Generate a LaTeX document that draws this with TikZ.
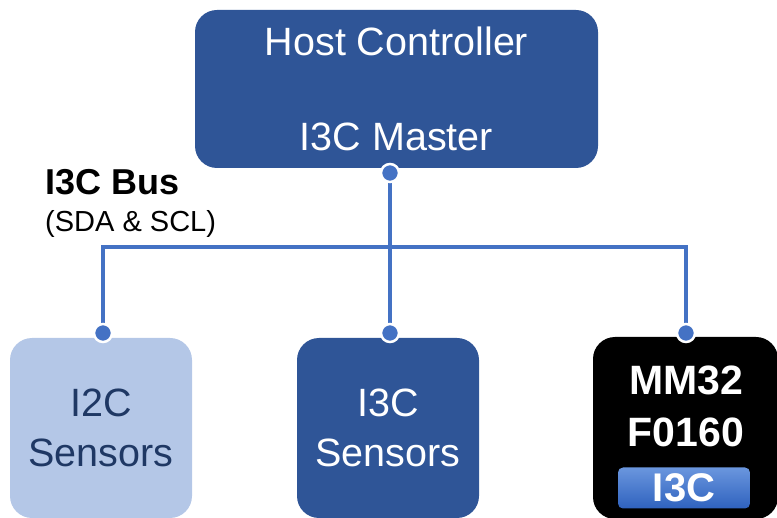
\documentclass[tikz,border=0pt]{standalone}
\usepackage{fontspec}
\setmainfont{Liberation Sans}
\usetikzlibrary{backgrounds}

\definecolor{hostblue}{HTML}{2F5597}
\definecolor{paleblue}{HTML}{B4C7E7}
\definecolor{busblue}{HTML}{4472C4}
\definecolor{navytext}{HTML}{1F3864}
\definecolor{taglight}{HTML}{6A96DE}
\definecolor{tagdark}{HTML}{2F62BE}

\tikzset{
  box/.style={rounded corners=22pt, inner sep=0pt, align=center},
  busline/.style={busblue, line width=4.5pt, line join=miter},
  busdot/.style={circle, inner sep=0pt, minimum size=18pt, fill=busblue, draw=white, line width=2.5pt}
}

\begin{document}
\begin{tikzpicture}[x=1pt,y=-1pt]

\useasboundingbox (0,0) rectangle (777,518);

\node[box, fill=hostblue, text=white, minimum width=403pt, minimum height=158pt, font=\fontsize{39.5}{95}\selectfont] (host) at (396.5,89) {Host Controller\\I3C Master};

\node[box, fill=paleblue, text=navytext, minimum width=182pt, minimum height=180pt, font=\fontsize{39.5}{50}\selectfont] (i2c) at (101,428) {I2C\\Sensors};

\node[box, fill=hostblue, text=white, minimum width=182pt, minimum height=180pt, font=\fontsize{39.5}{50}\selectfont] (i3c) at (388,428) {I3C\\Sensors};

\node[box, fill=black, minimum width=185pt, minimum height=182pt] (mm32) at (685.5,428) {};

\node[align=center, text=white, font=\bfseries\fontsize{41}{52}\selectfont] (mmname) at (686,406) {MM32\\F0160};

\node[inner sep=0pt, rounded corners=5pt, top color=taglight, bottom color=tagdark, minimum width=132pt, minimum height=41pt, text=white, font=\bfseries\fontsize{40}{40}\selectfont] (mmtag) at (684,488) {I3C};

\node[anchor=base west, inner sep=0pt, font=\bfseries\fontsize{36}{36}\selectfont] (busname) at (45,195) {I3C Bus};

\node[anchor=base west, inner sep=0pt, font=\fontsize{29}{29}\selectfont] (buswires) at (45,232) {(SDA \& SCL)};

\coordinate (busL) at (103,247);

\coordinate (busR) at (686,247);

\node[busdot] (hostdot) at (390,173) {};

\node[busdot] (i2cdot) at (103,333) {};

\node[busdot] (i3cdot) at (390,333) {};

\node[busdot] (mmdot) at (686,333) {};

\begin{pgfonlayer}{background}
\draw[busline] (i2cdot) -- (busL) -- (busR) -- (mmdot);
\draw[busline] (hostdot) -- (i3cdot);
\end{pgfonlayer}

\end{tikzpicture}
\end{document}
